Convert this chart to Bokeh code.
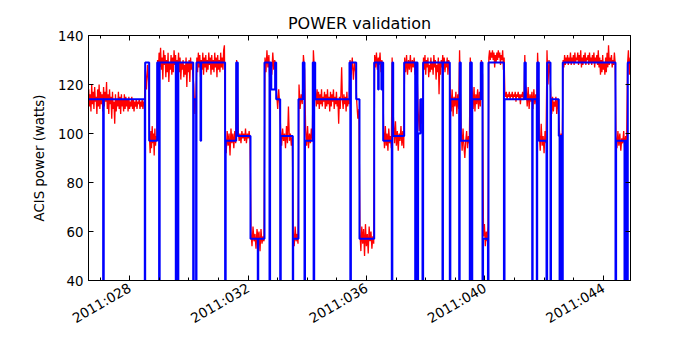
import math
from bokeh.plotting import figure
from bokeh.models import Range1d, FixedTicker, LinearAxis
from bokeh.embed import file_html
from bokeh.resources import INLINE

# ---- x-axis ticks (day of year 2011) ----
major_days = [28, 32, 36, 40, 44]
minor_days = list(range(27, 45))
tick_labels = ["2011:028", "2011:032", "2011:036", "2011:040", "2011:044"]
y_ticks = [40, 60, 80, 100, 120, 140]

# ---- model (blue step): breakpoint day -> power (W); 0 = dropout ----
model_t = [26.60, 27.10, 27.12, 28.507, 28.52, 28.655, 28.926, 28.99, 29.01, 29.554,
           29.57, 29.62, 29.64, 30.142, 30.16, 30.24, 30.253, 30.389, 30.41, 31.22,
           31.24, 31.595, 31.649, 32.078, 32.324, 32.34, 32.551, 32.72, 32.74, 32.78,
           32.91, 32.946, 33.081, 33.10, 33.507, 33.52, 33.699, 33.845, 33.902, 33.92,
           34.182, 34.21, 34.23, 34.264, 35.422, 35.45, 35.47, 35.649, 35.760, 36.257,
           36.39, 36.41, 36.50, 36.52, 36.561, 36.851, 36.87, 36.899, 37.270, 37.642,
           37.66, 37.72, 37.74, 37.82, 37.889, 37.91, 38.564, 38.58, 38.811, 38.83,
           39.128, 39.145, 39.182, 39.486, 39.50, 39.554, 39.57, 39.858, 39.916, 39.935,
           40.10, 40.118, 40.64, 40.66, 41.334, 41.378, 41.595, 41.61, 41.75, 41.764,
           41.818, 42.078, 42.10, 42.213, 42.23, 42.493, 42.52, 42.54, 42.60, 42.628,
           44.409, 44.43, 44.713, 44.735, 44.80, 44.824, 44.92]
model_w = [114, 0, 114, 0, 129, 97, 129, 0, 129, 0,
           129, 0, 129, 0, 114, 0, 129, 97, 129, 0,
           97, 129, 99, 57, 0, 57, 129, 0, 129, 118,
           129, 114, 0, 99, 0, 57, 114, 129, 0, 97,
           129, 0, 129, 114, 129, 0, 129, 114, 57, 129,
           118, 129, 118, 129, 97, 0, 129, 99, 129, 0,
           129, 0, 100, 114, 0, 129, 0, 129, 0, 114,
           0, 129, 97, 0, 129, 0, 114, 129, 0, 57,
           0, 129, 0, 114, 129, 114, 0, 114, 0, 129,
           97, 0, 129, 0, 114, 99, 0, 99, 0, 129,
           0, 97, 0, 97, 0, 129, 129]

# ---- telemetry (red): segment boundaries (day) and readings within each ----
red_bounds = [26.60, 28.507, 28.655, 28.926, 30.142, 30.253, 31.209, 31.595, 31.649, 32.078,
              32.551, 32.946, 33.081, 33.507, 33.699, 33.845, 33.926, 34.182, 34.264, 35.422,
              35.649, 35.760, 36.257, 36.561, 36.851, 36.899, 37.270, 37.72, 37.91, 38.811,
              39.128, 39.182, 39.486, 39.554, 39.858, 39.935, 40.118, 40.659, 41.334, 41.378,
              41.764, 41.818, 42.078, 42.213, 42.493, 42.628, 44.409, 44.80, 44.92]
red_vals = [
    [118, 111, 116, 109, 120, 112, 117, 110, 119, 113, 115, 108, 118, 111, 120, 110, 117, 112, 116, 109,
     119, 111, 117, 113, 121, 110, 116, 108, 118, 112, 115, 106, 117, 110, 113, 104, 116, 109, 114, 111,
     117, 110, 115, 108, 116, 111, 114, 109, 116, 110, 115, 111, 114, 109, 115, 110, 113, 111, 115, 110,
     114, 109, 113, 111, 114, 110, 113, 112, 114, 110, 113, 111, 114, 110, 113, 112],
    [126, 118, 128, 121],
    [98, 92, 101, 94, 103, 96, 100, 91, 102, 95, 99, 97],
    [130, 124, 133, 127, 135, 126, 131, 122, 134, 128, 132, 123, 130, 125, 133, 121, 129, 126, 132, 124,
     131, 125, 134, 128, 132, 124, 130, 127, 133, 125, 131, 122, 129, 126, 130, 123, 128, 124, 131, 119,
     129, 125, 130, 121, 131, 126, 129, 124],
    [120, 108, 116],
    [131, 125, 133, 127, 132, 123, 130, 126, 133, 124, 131, 127, 132, 125, 130, 126, 133, 128, 131, 124,
     132, 126, 130, 125, 133, 127, 131, 123, 132, 126, 130, 125, 133, 127, 131, 126, 134, 136],
    [99, 92, 101, 95, 100, 91, 102, 96, 100, 94, 101, 96],
    [130, 121],
    [101, 97, 100, 96, 101, 98, 100, 97, 102, 96, 100, 98, 101, 97],
    [60, 54, 62, 56, 59, 53, 61, 57, 60, 52, 61, 55, 58, 56],
    [131, 125, 134, 127, 132, 120, 129, 124, 133, 126, 130, 125],
    [116, 110, 118, 112],
    [101, 95, 102, 97, 100, 94, 103, 96, 111, 97, 100, 95, 99],
    [60, 54, 62, 56, 59, 55],
    [120, 110, 116, 112],
    [132, 126],
    [101, 95, 103, 94, 100, 96, 102, 97],
    [134, 124],
    [116, 111, 118, 112, 117, 110, 116, 112, 118, 111, 115, 113, 117, 110, 116, 111, 118, 112, 115, 109,
     117, 111, 116, 113, 118, 110, 115, 112, 117, 111, 114, 104, 115, 110, 116, 127, 114, 110, 116, 112,
     115, 109, 117, 111, 114, 112],
    [130, 124, 131, 122, 129, 125],
    [113, 106, 110],
    [60, 52, 62, 55, 61, 50, 63, 54, 59, 51, 62, 56, 60, 53, 58, 55],
    [132, 127, 133, 126, 131, 128, 133, 125, 130, 127],
    [101, 94, 103, 95, 100, 93, 102, 96, 99, 94],
    [131, 112],
    [104, 96, 105, 95, 101, 93, 100, 97, 103, 95, 101, 94],
    [131, 125, 132, 124, 130, 126, 132, 125, 130, 127, 131, 124, 129, 126],
    [110, 101, 114, 104, 112],
    [131, 126, 132, 124, 130, 127, 131, 123, 128, 125, 131, 126, 129, 124, 132, 127, 130, 122,
     128, 125, 131, 116, 129, 124, 130, 127, 132, 126, 131, 125, 129, 127, 131, 124, 130, 128],
    [117, 109, 118, 107, 115, 111, 117, 108, 116, 110],
    [134, 118],
    [101, 93, 102, 95, 90, 97, 101, 94, 99, 96],
    [131, 120],
    [117, 110, 119, 109, 116, 112, 118, 110, 117, 111],
    [130, 124],
    [58, 63, 54, 60, 56, 62],
    [131, 134, 130, 133, 131, 134, 130, 133, 127, 132, 129, 133, 130, 134, 131, 133, 128, 132, 130, 134,
     126, 131],
    [116, 115, 117, 114, 116, 115, 117, 114, 116, 115, 117, 114, 116, 115, 117, 113, 116, 115, 117, 114,
     116, 112, 116, 115, 117, 114, 116],
    [132, 120],
    [118, 111, 119, 110, 116, 113, 117, 110, 118, 112, 116, 111],
    [133, 122],
    [100, 93, 104, 95, 99, 92, 101, 96],
    [134, 120, 130, 124],
    [114, 108, 115, 109, 113, 111, 115, 108, 114, 110],
    [102, 96, 100, 97],
    [130, 127, 132, 128, 131, 129, 132, 128, 131, 129, 133, 128, 131, 129, 132, 128, 133, 129, 131, 130,
     133, 128, 132, 129, 134, 127, 131, 128, 132, 129, 133, 128, 131, 130, 132, 128, 133, 129, 131, 128,
     132, 129, 133, 127, 131, 129, 132, 128, 134, 127, 131, 124, 130, 125, 132, 126, 129, 124, 131, 125,
     133, 127, 136, 128, 131, 129, 132, 127, 130, 128, 133, 129],
    [99, 94, 101, 95, 100, 93, 98, 96, 101, 94, 99, 95],
    [128, 134, 124, 131],
]

red_t, red_w = [], []
for i, vals in enumerate(red_vals):
    t0, t1 = red_bounds[i], red_bounds[i + 1]
    n = len(vals)
    for k, v in enumerate(vals):
        red_t.append(t0 + (k + 0.5) * (t1 - t0) / n)
        red_w.append(v)

FONT = "DejaVu Sans"

p = figure(width=684, height=340, x_range=Range1d(26.605, 44.916), y_range=Range1d(40, 140),
           output_backend="svg", toolbar_location=None,
           min_border_left=88, min_border_right=54, min_border_top=35, min_border_bottom=60,
           title="POWER validation")
p.title.align = "center"
p.title.text_font = FONT
p.title.text_font_size = "16px"
p.title.text_font_style = "normal"
p.title.text_color = "black"
p.title.standoff = 6
p.xgrid.visible = False
p.ygrid.visible = False
p.outline_line_color = "black"
p.outline_line_alpha = 1.0
p.background_fill_color = "white"
p.border_fill_color = "white"

p.line(red_t, red_w, line_color="red", line_width=1.3)
p.step(model_t, model_w, mode="after", line_color="blue", line_width=2)

xt = FixedTicker(ticks=major_days, minor_ticks=minor_days)
yt = FixedTicker(ticks=y_ticks, minor_ticks=[])

p.xaxis.ticker = xt
p.xaxis.major_label_overrides = {d: s for d, s in zip(major_days, tick_labels)}
p.xaxis.major_label_orientation = math.pi / 6
p.yaxis.ticker = yt
p.yaxis.axis_label = "ACIS power (watts)"
p.yaxis.axis_label_text_font = FONT
p.yaxis.axis_label_text_font_size = "13.3px"
p.yaxis.axis_label_text_font_style = "normal"
p.yaxis.axis_label_text_color = "black"
p.yaxis.axis_label_standoff = 8

for ax in [p.xaxis[0], p.yaxis[0]]:
    ax.major_tick_in = 5
    ax.major_tick_out = 0
    ax.minor_tick_in = 3
    ax.minor_tick_out = 0
    ax.axis_line_color = "black"
    ax.major_tick_line_color = "black"
    ax.minor_tick_line_color = "black"
    ax.major_label_text_font = FONT
    ax.major_label_text_font_size = "13.6px"
    ax.major_label_text_color = "black"
    ax.major_label_standoff = 5
p.yaxis.major_label_text_font_size = "13.3px"
p.xaxis.major_label_standoff = 6

top = LinearAxis(ticker=xt, major_tick_in=5, major_tick_out=0, minor_tick_in=3, minor_tick_out=0,
                 major_label_overrides={d: "" for d in major_days}, major_label_standoff=0,
                 axis_line_color="black")
right = LinearAxis(ticker=yt, major_tick_in=5, major_tick_out=0, minor_tick_out=0,
                   major_label_overrides={v: "" for v in y_ticks}, major_label_standoff=0,
                   axis_line_color="black")
p.add_layout(top, "above")
p.add_layout(right, "right")

open("out.html", "w").write(file_html(p, INLINE))
